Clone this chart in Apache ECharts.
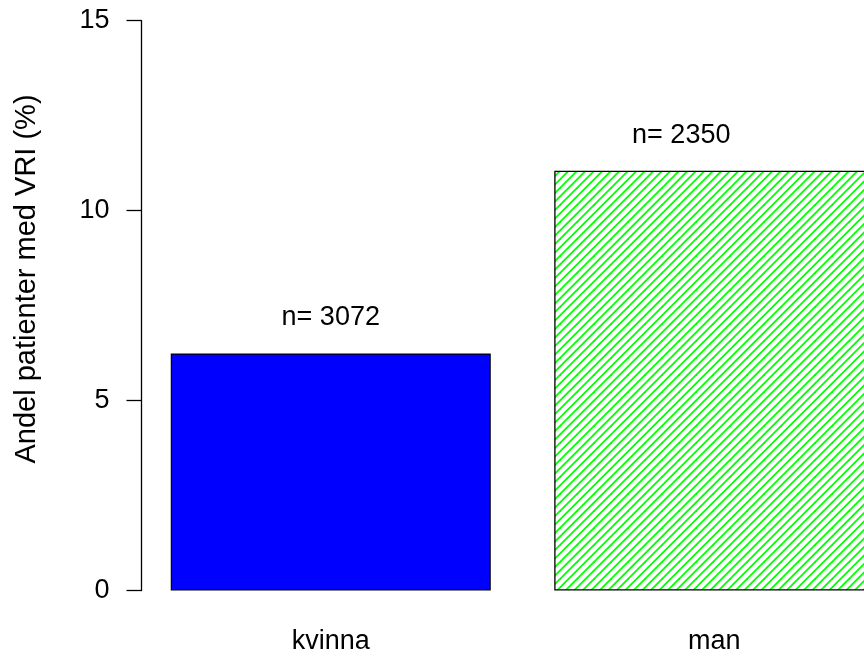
<!DOCTYPE html>
<html>
<head>
<meta charset="utf-8">
<script src="https://cdn.jsdelivr.net/npm/echarts@6/dist/echarts.min.js"></script>
<style>
  html, body { margin: 0; padding: 0; background: #fff; }
  #chart { width: 864px; height: 658px; }
</style>
</head>
<body>
<div id="chart"></div>
<script>
// Share of patients with VRI (%) by sex, with group sizes
const categories = ['kvinna', 'man'];
const shares = [6.24, 11.05];
const counts = [3072, 2350];
const yMin = 0;
const yMax = 15;
const yStep = 5;
const yTitle = 'Andel patienter med VRI (%)';

const FONT = '"Liberation Sans", Arial, Helvetica, sans-serif';
const FS = 27;
const TITLE_FS = 29;

// Diagonal hatch tile: "/" strokes along x + y = s, two per 17px tile (period 8.5px)
function hatchTile() {
  const size = 17;
  const c = document.createElement('canvas');
  c.width = size;
  c.height = size;
  const ctx = c.getContext('2d');
  ctx.fillStyle = '#ffffff';
  ctx.fillRect(0, 0, size, size);
  ctx.strokeStyle = '#00ff00';
  ctx.lineWidth = 1.8;
  for (let k = 0; k <= 4; k++) {
    const s = k * size / 2;
    ctx.beginPath();
    ctx.moveTo(s + 2, -2);
    ctx.lineTo(-2, s + 2);
    ctx.stroke();
  }
  return c;
}

const chart = echarts.init(document.getElementById('chart'), null, { renderer: 'canvas' });

const barColors = ['#0000ff', { image: hatchTile(), repeat: 'repeat' }];

chart.setOption({
  animation: false,
  backgroundColor: '#ffffff',
  grid: {
    left: 139, width: 767, top: 20.7, bottom: 67.5,
    containLabel: false,
    outerBoundsMode: 'none'
  },
  xAxis: {
    type: 'category',
    data: categories,
    boundaryGap: true,
    axisLine: { show: false },
    axisTick: { show: false },
    axisLabel: { color: '#000', fontFamily: FONT, fontSize: FS, margin: 38 }
  },
  yAxis: {
    type: 'value',
    min: yMin,
    max: yMax,
    interval: yStep,
    offset: -2.5,
    splitLine: { show: false },
    axisLine: { show: true, lineStyle: { color: '#000', width: 1.3 } },
    axisTick: { show: true, length: 15, lineStyle: { color: '#000', width: 1.3 } },
    axisLabel: { color: '#000', fontFamily: FONT, fontSize: FS, margin: 32 }
  },
  graphic: [{
    type: 'text',
    x: 27,
    y: 279,
    rotation: Math.PI / 2,
    style: {
      text: yTitle,
      fill: '#000',
      font: TITLE_FS + 'px ' + FONT,
      textAlign: 'center',
      textVerticalAlign: 'middle'
    }
  }],
  series: [{
    type: 'bar',
    barWidth: 320,
    data: shares.map((v, i) => ({
      value: v,
      itemStyle: { color: barColors[i] },
      label: i === 1 ? { offset: [-33, 0] } : {}
    })),
    itemStyle: { borderColor: '#000', borderWidth: 1.3 },
    label: {
      show: true,
      position: 'top',
      distance: 22,
      color: '#000',
      fontFamily: FONT,
      fontSize: FS,
      formatter: p => 'n= ' + counts[p.dataIndex]
    }
  }]
});
</script>
</body>
</html>
